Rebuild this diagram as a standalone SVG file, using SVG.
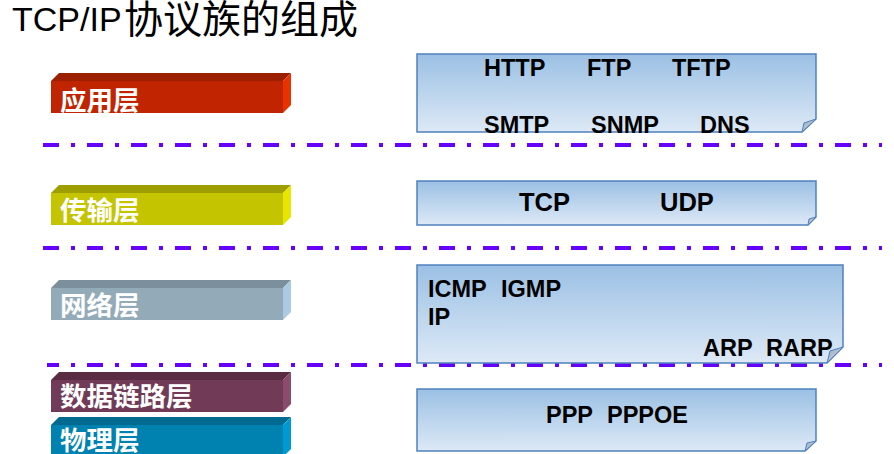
<svg xmlns="http://www.w3.org/2000/svg" width="894" height="454" viewBox="0 0 894 454">
<defs>
<linearGradient id="boxg" x1="0" y1="0" x2="0" y2="1">
<stop offset="0" stop-color="#9BC0E4"/>
<stop offset="1" stop-color="#DDE9F6"/>
</linearGradient>
<linearGradient id="foldg" x1="0" y1="0" x2="1" y2="1">
<stop offset="0" stop-color="#9FB0C4"/>
<stop offset="1" stop-color="#C9D2DC"/>
</linearGradient>
</defs>
<style>
.title{font-family:"Liberation Sans","Noto Sans CJK SC",sans-serif;font-size:34px;fill:#000}
.cjk{font-family:"Noto Sans CJK SC","Liberation Sans",sans-serif;font-size:39px}
.lbl{font-family:"Noto Sans CJK SC","Liberation Sans",sans-serif;font-size:26.5px;font-weight:bold;fill:#fff}
.p{font-family:"Liberation Sans",Arial,sans-serif;font-size:23.5px;font-weight:bold;fill:#000}
.box{fill:url(#boxg);stroke:#4F81BD;stroke-width:1.5}
.fold{fill:url(#foldg);stroke:#4F81BD;stroke-width:1}
.sep{stroke:#6600FF;stroke-width:4;stroke-dasharray:16 12 4 12;fill:none}
</style>

<text class="title" x="12" y="31">TCP/IP<tspan class="cjk" x="124" y="33">协议族的组成</tspan></text>

<g id="separators">
<line class="sep" x1="43" y1="145" x2="882" y2="145"/>
<line class="sep" x1="43" y1="248" x2="882" y2="248"/>
<line class="sep" x1="47" y1="365" x2="882" y2="365" stroke-dashoffset="4"/>
</g>

<g id="bar-app" transform="translate(0,73)">
<polygon points="51,8 59,0 291,0 283,8" fill="#9A2000"/>
<polygon points="283,8 291,0 291,32 283,40" fill="#E63300"/>
<rect x="51" y="8" width="232" height="32" fill="#C02400"/>
<text class="lbl" x="60" y="37">应用层</text>
</g>

<g id="bar-transport" transform="translate(0,185)">
<polygon points="51,8 59,0 291,0 283,8" fill="#9E9E00"/>
<polygon points="283,8 291,0 291,32 283,40" fill="#E6E600"/>
<rect x="51" y="8" width="232" height="32" fill="#C4C400"/>
<text class="lbl" x="60" y="35">传输层</text>
</g>

<g id="bar-network" transform="translate(0,280)">
<polygon points="51,8 59,0 291,0 283,8" fill="#7B8F9C"/>
<polygon points="283,8 291,0 291,32 283,40" fill="#A9CAE0"/>
<rect x="51" y="8" width="232" height="32" fill="#93AAB8"/>
<text class="lbl" x="60" y="35">网络层</text>
</g>

<g id="bar-datalink" transform="translate(0,372)">
<polygon points="51,8 59,0 291,0 283,8" fill="#5A2C44"/>
<polygon points="283,8 291,0 291,32 283,40" fill="#8A4C6C"/>
<rect x="51" y="8" width="232" height="32" fill="#713B57"/>
<text class="lbl" x="60" y="34">数据链路层</text>
</g>

<g id="bar-physical" transform="translate(0,417)">
<polygon points="51,8 59,0 291,0 283,8" fill="#006A90"/>
<polygon points="283,8 291,0 291,32 283,40" fill="#009AD2"/>
<rect x="51" y="8" width="232" height="32" fill="#0082B0"/>
<text class="lbl" x="60" y="33">物理层</text>
</g>

<g id="box-app">
<path class="box" d="M417,54 H816 V119 L802,132 H417 Z"/>
<polygon class="fold" points="802,132 816,119 804,123"/>
<text class="p" x="484" y="76">HTTP</text>
<text class="p" x="587" y="76">FTP</text>
<text class="p" x="672" y="76">TFTP</text>
<text class="p" x="484" y="133">SMTP</text>
<text class="p" x="591" y="133">SNMP</text>
<text class="p" x="700" y="133">DNS</text>
</g>

<g id="box-transport">
<path class="box" d="M417,181 H816 V217 L808,225 H417 Z"/>
<polygon class="fold" points="808,225 816,217 809,219"/>
<text class="p" x="519" y="211" style="font-size:25.5px">TCP</text>
<text class="p" x="660" y="211" style="font-size:25.5px">UDP</text>
</g>

<g id="box-network">
<path class="box" d="M417,265 H843 V347 L827,363 H417 Z"/>
<polygon class="fold" points="827,363 843,347 830,351"/>
<text class="p" x="428" y="297">ICMP</text>
<text class="p" x="501" y="297">IGMP</text>
<text class="p" x="428" y="325">IP</text>
<text class="p" x="703" y="356">ARP</text>
<text class="p" x="766" y="356">RARP</text>
</g>

<g id="box-link">
<path class="box" d="M417,389 H816 V441 L805,451 H417 Z"/>
<polygon class="fold" points="805,451 816,441 807,443"/>
<text class="p" x="546" y="423">PPP</text>
<text class="p" x="607" y="423">PPPOE</text>
</g>
</svg>
